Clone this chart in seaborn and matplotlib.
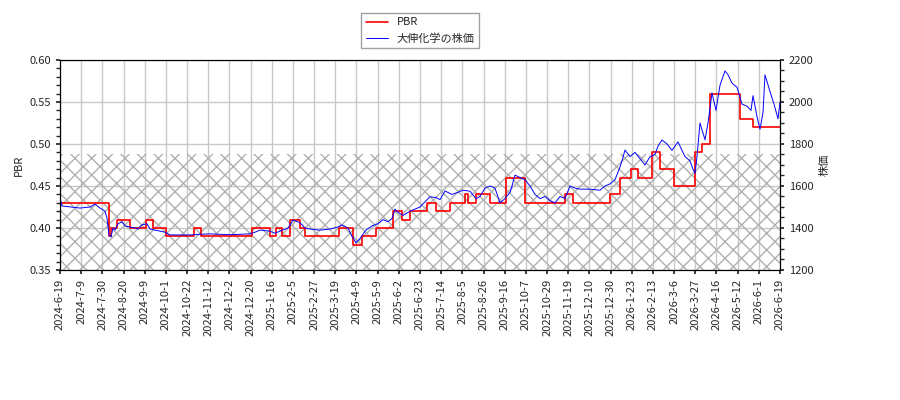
import matplotlib
matplotlib.use("Agg")
import matplotlib.pyplot as plt
import seaborn as sns
import numpy as np
import pandas as pd
from matplotlib.ticker import MultipleLocator

sns.set_theme(style="white")
plt.rcParams['font.family'] = ['Noto Sans CJK JP', 'DejaVu Sans']

tick_labels = ["2024-6-19","2024-7-9","2024-7-30","2024-8-20","2024-9-9","2024-10-1","2024-10-22",
 "2024-11-12","2024-12-2","2024-12-20","2025-1-16","2025-2-5","2025-2-27","2025-3-19","2025-4-9",
 "2025-5-9","2025-6-2","2025-6-23","2025-7-14","2025-8-5","2025-8-26","2025-9-16","2025-10-7",
 "2025-10-29","2025-11-19","2025-12-10","2025-12-30","2026-1-23","2026-2-13","2026-3-6","2026-3-27",
 "2026-4-16","2026-5-12","2026-6-1","2026-6-19"]

# PBR step series: (time index, value)
pbr_steps = [(0,0.43),(49,0.39),(51,0.40),(57,0.41),(70,0.40),(86,0.41),(93,0.40),(106,0.39),
             (134,0.40),(141,0.39),(192,0.40),(210,0.39),(216,0.40),(222,0.39),(230,0.41),(240,0.40),
             (245,0.39),(279,0.40),(293,0.38),(302,0.39),(316,0.40),(333,0.42),(342,0.41),(350,0.42),
             (367,0.43),(376,0.42),(390,0.43),(405,0.44),(408,0.43),(416,0.44),(430,0.43),(446,0.46),
             (465,0.43),(505,0.44),(513,0.43),(550,0.44),(560,0.46),(571,0.47),(578,0.46),(592,0.49),
             (600,0.47),(614,0.45),(635,0.49),(642,0.50),(650,0.56),(680,0.53),(693,0.52),(720,0.52)]

# share price: (time index, yen)
price_points = [(0,1543),(2,1505),(20,1495),(30,1500),(35,1514),(40,1495),(45,1480),(47,1448),
    (49,1367),(51,1357),(53,1400),(55,1390),(58,1420),(62,1430),(65,1410),(70,1405),(75,1400),
    (78,1395),(82,1415),(87,1420),(90,1395),(95,1390),(105,1380),(110,1367),(120,1367),(130,1367),
    (140,1370),(150,1372),(160,1370),(170,1368),(180,1370),(190,1372),(195,1380),(200,1390),
    (210,1385),(215,1375),(220,1385),(228,1400),(233,1438),(240,1425),(245,1400),(250,1395),
    (260,1390),(270,1395),(278,1405),(282,1415),(288,1400),(292,1360),(296,1330),(300,1350),
    (306,1390),(312,1410),(318,1420),(323,1440),(328,1430),(332,1445),(335,1490),(338,1475),
    (343,1460),(350,1480),(355,1490),(360,1500),(365,1525),(370,1549),(376,1545),(380,1535),
    (385,1576),(392,1560),(398,1570),(403,1580),(410,1575),(416,1540),(420,1550),(425,1590),
    (430,1600),(435,1590),(440,1520),(445,1540),(450,1570),(452,1600),(455,1652),(460,1640),
    (465,1630),(470,1600),(475,1560),(480,1540),(485,1550),(490,1530),(495,1520),(500,1550),
    (505,1540),(510,1600),(515,1590),(520,1585),(530,1585),(540,1580),(545,1600),(550,1610),
    (555,1630),(560,1690),(562,1720),(565,1771),(570,1740),(575,1760),(580,1730),(585,1700),
    (590,1740),(595,1750),(598,1790),(602,1819),(607,1800),(612,1770),(618,1810),(625,1740),
    (630,1720),(633,1680),(635,1660),(637,1740),(640,1900),(645,1820),(648,1900),(652,2043),
    (656,1960),(660,2080),(665,2148),(668,2130),(672,2090),(677,2070),(682,1990),(687,1980),
    (691,1960),(693,2030),(697,1930),(700,1870),(703,1950),(705,2129),(710,2050),(714,1990),
    (718,1920),(720,2000)]

pbr_df = pd.DataFrame(pbr_steps, columns=["t", "PBR"])
price_df = pd.DataFrame(price_points, columns=["t", "price"])

fig = plt.figure(figsize=(9, 4), dpi=100)
ax = fig.add_axes([60/900, 130/400, 720/900, 210/400])
ax2 = ax.twinx()

ax.fill_between([0, 720], 0.35, 0.488, facecolor="none", edgecolor="#b0b0b0", hatch="xx", linewidth=0)
ax.step(pbr_df["t"], pbr_df["PBR"], where="post", color="red", lw=1.2, label="PBR")
sns.lineplot(data=price_df, x="t", y="price", ax=ax2, color="blue", lw=0.7, label="大伸化学の株価", legend=False)

ax.set_xlim(0, 720)
ax.set_ylim(0.35, 0.60)
ax2.set_ylim(1200, 2200)
ticks = np.linspace(0, 720, len(tick_labels))
ax.set_xticks(ticks)
ax.set_xticklabels(tick_labels, rotation=90, fontsize=8)
ax.yaxis.set_major_locator(MultipleLocator(0.05))
ax.yaxis.set_minor_locator(MultipleLocator(0.01))
ax2.yaxis.set_major_locator(MultipleLocator(200))
ax2.yaxis.set_minor_locator(MultipleLocator(50))
ax.tick_params(axis="y", labelsize=8, which="both", left=True, length=3)
ax.tick_params(axis="x", bottom=True, length=3)
ax2.tick_params(axis="y", labelsize=8, which="both", right=True, length=3)
ax.grid(True, color="#c8c8c8", lw=1)
ax.set_ylabel("PBR", fontsize=8)
ax2.set_ylabel("株価", fontsize=8)
ax2.set_xlabel("")
ax.set_xlabel("")
for a in (ax, ax2):
    for s in a.spines.values():
        s.set_color("black"); s.set_linewidth(0.8)

h1, l1 = ax.get_legend_handles_labels()
h2, l2 = ax2.get_legend_handles_labels()
ax.legend(h1 + h2, l1 + l2, loc="upper center", bbox_to_anchor=(0.5, 1.25), fontsize=8,
          frameon=True, fancybox=False, edgecolor="#888888")

fig.savefig("out.png", dpi=100)
